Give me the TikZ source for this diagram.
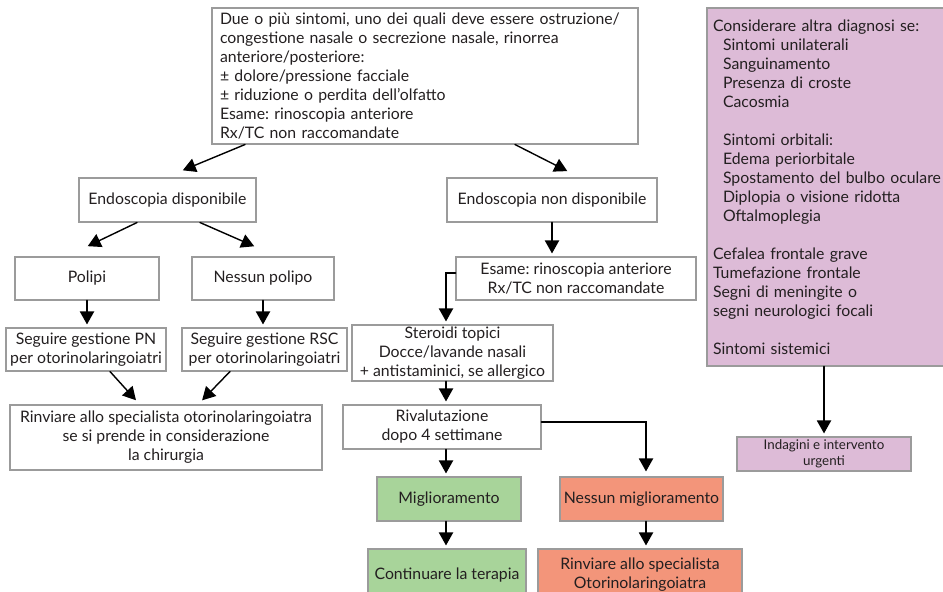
\documentclass[tikz,border=0pt]{standalone}
\usepackage{fontspec}
\setmainfont{Lato}
\frenchspacing
\usetikzlibrary{arrows.meta}
\definecolor{viola}{RGB}{221,187,215}
\definecolor{verde}{RGB}{168,212,154}
\definecolor{salmone}{RGB}{243,149,122}
\definecolor{bordo}{RGB}{155,155,155}
\definecolor{testo}{RGB}{35,31,32}
\begin{document}
\begin{tikzpicture}[line cap=round,>={Triangle[width=0.28cm,length=0.26cm]},x=1.0cm,y=1.0cm,
  box/.style={draw=bordo,line width=0.6pt,fill=white,inner sep=1pt,align=center,text=testo,font=\fontsize{9}{10.8}\selectfont},
  flow/.style={->,line width=1.1pt,shorten >=0.06cm}]
\clip (0,0) rectangle (18.86,11.82);
\useasboundingbox (0,0) rectangle (18.86,11.82);
% colonna centrale e sinistra
\node[box,minimum width=8.52cm,minimum height=2.72cm,text width=8.2cm,align=left] (sintomi) at (8.50,10.30) {Due o più sintomi, uno dei quali deve essere ostruzione/\\congestione nasale o secrezione nasale, rinorrea\\anteriore/posteriore:\\± dolore/pressione facciale\\± riduzione o perdita dell’olfatto\\Esame: rinoscopia anteriore\\Rx/TC non raccomandate};
\node[box,minimum width=3.54cm,minimum height=0.88cm] (endo) at (3.35,7.82) {Endoscopia disponibile};
\node[box,minimum width=4.20cm,minimum height=0.88cm] (noendo) at (11.04,7.82) {Endoscopia non disponibile};
\node[box,minimum width=2.88cm,minimum height=0.86cm] (polipi) at (1.74,6.25) {Polipi};
\node[box,minimum width=2.84cm,minimum height=0.86cm] (nopolipi) at (5.26,6.25) {Nessun polipo};
\node[box,minimum width=3.20cm,minimum height=0.86cm] (gestpn) at (1.72,4.83) {Seguire gestione PN\\per otorinolaringoiatri};
\node[box,minimum width=3.30cm,minimum height=0.86cm] (gestrsc) at (5.29,4.83) {Seguire gestione RSC\\per otorinolaringoiatri};
\node[box,minimum width=6.24cm,minimum height=1.30cm] (rinvio) at (3.32,3.07) {Rinviare allo specialista otorinolaringoiatra\\se si prende in considerazione\\la chirurgia};
\node[box,minimum width=4.80cm,minimum height=0.86cm] (esame) at (11.52,6.25) {Esame: rinoscopia anteriore\\Rx/TC non raccomandate};
\node[box,minimum width=4.02cm,minimum height=1.04cm] (steroidi) at (9.05,4.76) {Steroidi topici\\Docce/lavande nasali\\+ antistaminici, se allergico};
\node[box,minimum width=3.96cm,minimum height=0.88cm] (rival) at (8.84,3.28) {Rivalutazione\\dopo 4 settimane};
\node[box,fill=verde,minimum width=2.88cm,minimum height=0.88cm] (migl) at (8.98,1.84) {Miglioramento};
\node[box,fill=salmone,minimum width=3.26cm,minimum height=0.88cm] (nomigl) at (12.83,1.84) {Nessun miglioramento};
\node[box,fill=verde,minimum width=3.16cm,minimum height=1.04cm] (terapia) at (8.94,0.32) {Continuare la terapia};
\node[box,fill=salmone,minimum width=4.08cm,minimum height=1.04cm] (rinvspec) at (12.80,0.32) {Rinviare allo specialista\\Otorinolaringoiatra};
% colonna destra
\node[box,fill=viola,inner xsep=0.12cm,minimum height=7.16cm,text width=4.7cm,align=left] (diagnosi) at (16.61,8.08) {Considerare altra diagnosi se:\\
\hspace*{0.2cm}Sintomi unilaterali\\
\hspace*{0.2cm}Sanguinamento\\
\hspace*{0.2cm}Presenza di croste\\
\hspace*{0.2cm}Cacosmia\\[10.8pt]
\hspace*{0.2cm}Sintomi orbitali:\\
\hspace*{0.2cm}Edema periorbitale\\
\hspace*{0.2cm}Spostamento del bulbo oculare\\
\hspace*{0.2cm}Diplopia o visione ridotta\\
\hspace*{0.2cm}Oftalmoplegia\\[10.8pt]
Cefalea frontale grave\\
Tumefazione frontale\\
Segni di meningite o\\
segni neurologici focali\\[10.8pt]
Sintomi sistemici};
\node[box,fill=viola,minimum width=3.48cm,minimum height=0.68cm,font=\fontsize{7.6}{9}\selectfont] (urgenti) at (16.48,2.74) {Indagini e intervento\\urgenti};
% frecce
\draw[flow,line width=0.8pt] ([xshift=-3.6cm]sintomi.south) -- ([xshift=0.25cm,yshift=0.12cm]endo.north);
\draw[flow,line width=0.8pt] ([xshift=1.8cm]sintomi.south) -- ([xshift=0.36cm,yshift=0.10cm]noendo.north);
\draw[flow,line width=0.8pt] ([xshift=-0.61cm]endo.south) -- ([xshift=-0.04cm,yshift=0.18cm]polipi.north);
\draw[flow,line width=0.8pt] ([xshift=0.65cm]endo.south) -- ([xshift=-0.12cm,yshift=0.18cm]nopolipi.north);
\draw[flow] (polipi.south) -- (polipi.south |- gestpn.north);
\draw[flow] (nopolipi.south) -- (nopolipi.south |- gestrsc.north);
\draw[flow,line width=0.8pt] ([xshift=0.48cm]gestpn.south) -- ([xshift=-0.56cm,yshift=0.04cm]rinvio.north);
\draw[flow,line width=0.8pt] ([xshift=-0.69cm]gestrsc.south) -- ([xshift=0.68cm,yshift=0.04cm]rinvio.north);
\draw[flow] (noendo.south) -- (noendo.south |- esame.north);
\draw[flow] ([yshift=0.11cm]esame.west) -| ([xshift=-0.13cm]steroidi.north);
\draw[flow] ([xshift=0.08cm]rival.north |- steroidi.south) -- ([xshift=0.08cm]rival.north);
\draw[flow] ([xshift=0.08cm]rival.south) -- ([xshift=0.08cm]rival.south |- migl.north);
\draw[flow,shorten >=0.1cm] ([yshift=0.1cm]rival.east) -| ([xshift=0.09cm]nomigl.north);
\draw[flow] ([xshift=0.08cm]rival.south |- migl.south) -- ([xshift=0.08cm]rival.south |- terapia.north);
\draw[flow] ([xshift=0.09cm]nomigl.south) -- ([xshift=0.09cm]nomigl.south |- rinvspec.north);
\draw[flow] ([xshift=-0.13cm]diagnosi.south) -- ([xshift=-0.13cm]diagnosi.south |- urgenti.north);
\end{tikzpicture}
\end{document}
